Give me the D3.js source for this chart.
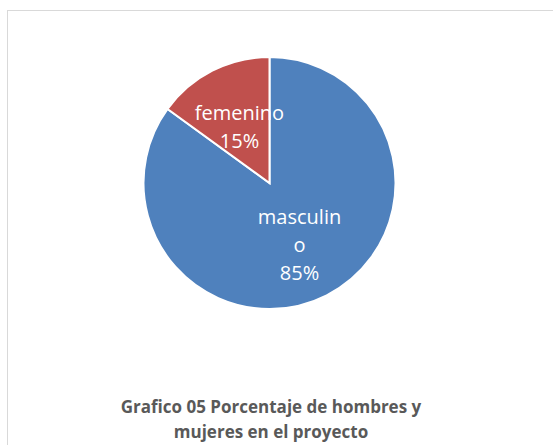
<!DOCTYPE html>
<html>
<head>
<meta charset="utf-8">
<script src="https://cdn.jsdelivr.net/npm/d3@7"></script>
<style>
  body { margin: 0; background: #fff; }
  svg { display: block; }
</style>
</head>
<body>
<div id="chart"></div>
<script>
// datos del grafico
const categorias = ['masculino', 'femenino'];
const valores = [85, 15];
const colores = ['#4f81bd', '#c0504d'];
// etiquetas tal como se cortan en el original
const etiquetas = [['masculin', 'o', '85%'], ['femenino', '15%']];
const titulo = ['Grafico 05 Porcentaje de hombres y', 'mujeres en el proyecto'];

const width = 553, height = 445;
const cx = 269.5, cy = 183, radio = 126;
const fuente = '"Open Sans", sans-serif';

const svg = d3.select('#chart').append('svg')
    .attr('width', width).attr('height', height);

// marco del area del grafico
svg.append('rect')
    .attr('x', 7.5).attr('y', 10.5)
    .attr('width', 600).attr('height', 500)
    .attr('fill', '#fff')
    .attr('stroke', '#d9d9d9').attr('stroke-width', 1);

const datos = categorias.map((c, i) => ({cat: c, val: valores[i], idx: i}));

const pie = d3.pie().sort(null).value(d => d.val);
const arc = d3.arc().innerRadius(0).outerRadius(radio);
const arcEtiq = d3.arc().innerRadius(0).outerRadius(radio * 1.05);

const g = svg.append('g').attr('transform', `translate(${cx},${cy})`);

const arcos = pie(datos);

g.selectAll('path.slice')
    .data(arcos)
    .join('path')
    .attr('class', 'slice')
    .attr('d', arc)
    .attr('fill', d => colores[d.data.idx])
    .attr('stroke', '#fff')
    .attr('stroke-width', 2)
    .attr('stroke-linejoin', 'miter');

const lh = 28;
g.selectAll('text.etiq')
    .data(arcos)
    .join('text')
    .attr('class', 'etiq')
    .attr('transform', d => `translate(${arcEtiq.centroid(d)})`)
    .attr('text-anchor', 'middle')
    .attr('fill', '#fff')
    .style('font-family', fuente)
    .style('font-size', '20px')
    .each(function (d) {
        const lineas = etiquetas[d.data.idx];
        const t = d3.select(this);
        const y0 = -(lineas.length - 1) * lh / 2;
        lineas.forEach((l, i) => {
            t.append('tspan')
                .attr('x', 0)
                .attr('y', y0 + i * lh + 10)
                .text(l);
        });
    });

// titulo abajo
svg.append('text')
    .attr('text-anchor', 'middle')
    .attr('fill', '#595959')
    .style('font-family', fuente)
    .style('font-weight', 'bold')
    .style('font-size', '17px')
    .selectAll('tspan')
    .data(titulo)
    .join('tspan')
    .attr('x', 271)
    .attr('y', (d, i) => 413 + i * 25)
    .text(d => d);
</script>
</body>
</html>
